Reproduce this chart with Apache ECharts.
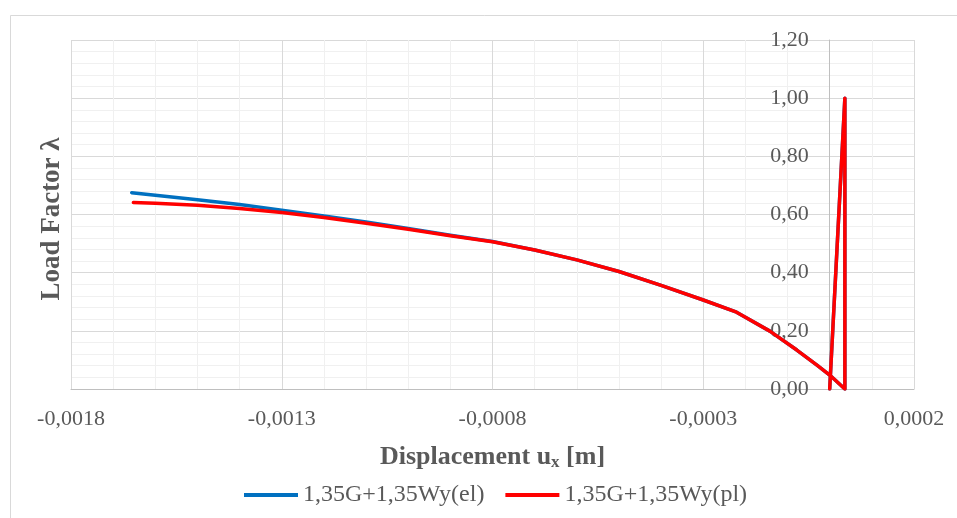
<!DOCTYPE html>
<html>
<head>
<meta charset="utf-8">
<script src="https://cdn.jsdelivr.net/npm/echarts@6/dist/echarts.min.js"></script>
<style>
html,body{margin:0;padding:0;background:#fff;}
#chart{width:957px;height:518px;}
</style>
</head>
<body>
<div id="chart"></div>
<script>
// Series 1: 1,35G+1,35Wy(el)
const uEl = [-0.001656, -0.0016, -0.0015, -0.0014, -0.0013, -0.0012, -0.0011, -0.0010, -0.0009, -0.0008, -0.0007, -0.0006, -0.0005, -0.0004, -0.0003, -0.000221, -0.000142, -0.000078, -0.000031, 0, 0.000036, 0.000036, 0];
const lambdaEl = [0.675, 0.666, 0.651, 0.634, 0.615, 0.595, 0.574, 0.552, 0.529, 0.507, 0.478, 0.444, 0.404, 0.356, 0.306, 0.264, 0.199, 0.134, 0.083, 0.048, 0, 1.0, 0];
// Series 2: 1,35G+1,35Wy(pl)
const uPl = [-0.001652, -0.0016, -0.0015, -0.0014, -0.0013, -0.0012, -0.0011, -0.0010, -0.0009, -0.0008, -0.0007, -0.0006, -0.0005, -0.0004, -0.0003, -0.000221, -0.000142, -0.000078, -0.000031, 0, 0.000036, 0.000036, 0];
const lambdaPl = [0.641, 0.639, 0.632, 0.621, 0.607, 0.590, 0.570, 0.549, 0.527, 0.506, 0.478, 0.444, 0.404, 0.356, 0.306, 0.264, 0.199, 0.134, 0.083, 0.048, 0, 1.0, 0];

const seriesNames = ['1,35G+1,35Wy(el)', '1,35G+1,35Wy(pl)'];
const xTicks = [-0.0018, -0.0013, -0.0008, -0.0003, 0.0002];
const yTicks = [0, 0.2, 0.4, 0.6, 0.8, 1.0, 1.2];
const xTitle = 'Displacement u';
const xTitleSub = 'x';
const xTitleEnd = ' [m]';
const yTitle = 'Load Factor λ';

const FONT = '"Liberation Serif","Times New Roman",serif';
const GRID_LEFT = 71;
const zip = (a, b) => a.map((v, i) => [v, b[i]]);

const chart = echarts.init(document.getElementById('chart'));
chart.setOption({
  animation: false,
  backgroundColor: '#ffffff',
  grid: { left: GRID_LEFT, right: 43, top: 40, bottom: 129, containLabel: false },
  graphic: [
    { type: 'rect', shape: { x: 10.5, y: 15.5, width: 960, height: 520 },
      style: { fill: 'none', stroke: '#d9d9d9', lineWidth: 1 }, silent: true, z: -10 },
    { type: 'text', x: 52, y: 219, rotation: Math.PI / 2,
      style: { text: yTitle, font: 'bold 27px ' + FONT, fill: '#595959', align: 'center', verticalAlign: 'middle' } }
  ],
  legend: {
    left: 239, top: 478,
    icon: 'rect', itemWidth: 54, itemHeight: 4, itemGap: 21,
    textStyle: { fontFamily: FONT, fontSize: 24, color: '#595959' },
    data: seriesNames
  },
  xAxis: {
    type: 'value',
    min: xTicks[0], max: xTicks[xTicks.length - 1], interval: xTicks[1] - xTicks[0],
    axisLine: { show: true, onZero: true, lineStyle: { color: '#bfbfbf', width: 1 } },
    axisTick: { show: false },
    axisLabel: { fontFamily: FONT, fontSize: 22, color: '#595959', margin: 19,
      formatter: v => v.toFixed(4).replace('.', ',') },
    splitLine: { show: true, lineStyle: { color: '#d9d9d9', width: 1 } },
    minorTick: { show: false, splitNumber: 5 },
    minorSplitLine: { show: true, lineStyle: { color: '#f0f0f0', width: 1 } },
    name: '{a|' + xTitle + '}{b|' + xTitleSub + '}{a|' + xTitleEnd + '}',
    nameLocation: 'middle', nameGap: 53,
    nameTextStyle: {
      rich: {
        a: { fontFamily: FONT, fontSize: 26, fontWeight: 'bold', color: '#595959', lineHeight: 30 },
        b: { fontFamily: FONT, fontSize: 17, fontWeight: 'bold', color: '#595959', lineHeight: 30, padding: [12, 0, 0, 0] }
      }
    }
  },
  yAxis: {
    type: 'value',
    min: yTicks[0], max: yTicks[yTicks.length - 1], interval: yTicks[1] - yTicks[0],
    axisLine: { show: true, onZero: false, lineStyle: { color: '#bfbfbf', width: 1 } },
    axisTick: { show: false },
    axisLabel: { fontFamily: FONT, fontSize: 22, color: '#595959', margin: 21,
      formatter: v => v.toFixed(2).replace('.', ',') },
    splitLine: { show: true, lineStyle: { color: '#d9d9d9', width: 1 } },
    minorTick: { show: false, splitNumber: 5 },
    minorSplitLine: { show: true, lineStyle: { color: '#f0f0f0', width: 1 } }
  },
  series: [
    { name: seriesNames[0], type: 'line', data: zip(uEl, lambdaEl), showSymbol: false, symbol: 'none',
      lineStyle: { color: '#0070c0', width: 3.5, cap: 'round', join: 'round' }, itemStyle: { color: '#0070c0' } },
    { name: seriesNames[1], type: 'line', data: zip(uPl, lambdaPl), showSymbol: false, symbol: 'none',
      lineStyle: { color: '#ff0000', width: 3.5, cap: 'round', join: 'round' }, itemStyle: { color: '#ff0000' } }
  ]
});
// Put the vertical axis (line + labels) where u = 0, as in the original chart.
const zeroPx = chart.convertToPixel({ xAxisIndex: 0 }, 0);
chart.setOption({ yAxis: { offset: -(zeroPx - GRID_LEFT) } });
</script>
</body>
</html>
